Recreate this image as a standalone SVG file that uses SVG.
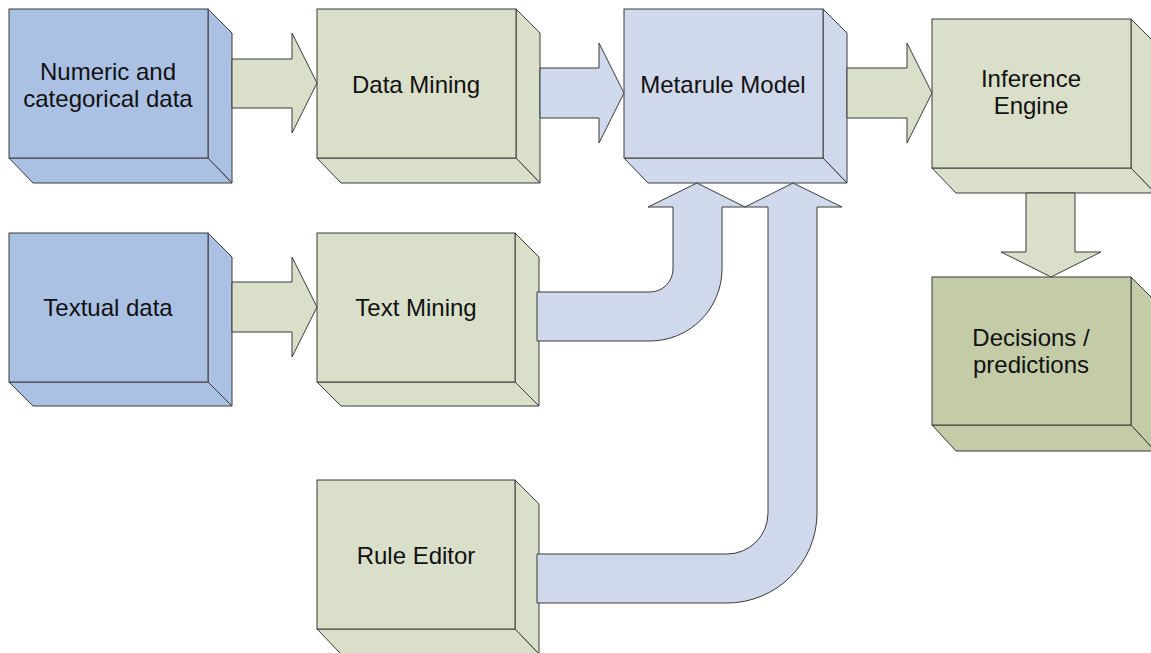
<svg xmlns="http://www.w3.org/2000/svg" width="1151" height="653" viewBox="0 0 1151 653">
<style>
.f{stroke:#3a3a3a;stroke-width:1;stroke-linejoin:miter}
.blue{fill:#ABC1E3}
.green{fill:#DADFC9}
.lblue{fill:#CFD9EB}
.olive{fill:#C3CBA7}
text{font-family:"Liberation Sans",Arial,sans-serif;font-size:24px;fill:#111;text-anchor:middle}
</style>
<rect width="1151" height="653" fill="#fff"/>
<g id="numeric" class="blue">
<polygon class="f" points="208,9 232,33 232,183 208,158"/>
<polygon class="f" points="9,158 208,158 232,183 33,183"/>
<rect class="f" x="9" y="9" width="199" height="149"/>
<text x="108" y="80">Numeric and</text>
<text x="108" y="107">categorical data</text>
</g>
<g id="datamining" class="green">
<polygon class="f" points="516,9 540,33 540,183 516,158"/>
<polygon class="f" points="317,158 516,158 540,183 341,183"/>
<rect class="f" x="317" y="9" width="199" height="149"/>
<text x="416" y="93">Data Mining</text>
</g>
<g id="metarule" class="lblue">
<polygon class="f" points="823,9 847,33 847,183 823,158"/>
<polygon class="f" points="624,158 823,158 847,183 648,183"/>
<rect class="f" x="624" y="9" width="199" height="149"/>
<text x="723" y="93">Metarule Model</text>
</g>
<g id="inference" class="green">
<polygon class="f" points="1131,19 1155,43 1155,193 1131,168"/>
<polygon class="f" points="932,168 1131,168 1155,193 956,193"/>
<rect class="f" x="932" y="19" width="199" height="149"/>
<text x="1031" y="87">Inference</text>
<text x="1031" y="114">Engine</text>
</g>
<g id="textual" class="blue">
<polygon class="f" points="208,233 232,257 232,406 208,382"/>
<polygon class="f" points="9,382 208,382 232,406 33,406"/>
<rect class="f" x="9" y="233" width="199" height="149"/>
<text x="108" y="316">Textual data</text>
</g>
<g id="textmining" class="green">
<polygon class="f" points="515,233 539,257 539,406 515,382"/>
<polygon class="f" points="317,382 515,382 539,406 341,406"/>
<rect class="f" x="317" y="233" width="198" height="149"/>
<text x="416" y="316">Text Mining</text>
</g>
<g id="decisions" class="olive">
<polygon class="f" points="1131,277 1155,301 1155,451 1131,425"/>
<polygon class="f" points="932,425 1131,425 1155,451 956,451"/>
<rect class="f" x="932" y="277" width="199" height="148"/>
<text x="1031" y="346">Decisions /</text>
<text x="1031" y="373">predictions</text>
</g>
<g id="ruleeditor" class="green">
<polygon class="f" points="515,480 539,504 539,654 515,629"/>
<polygon class="f" points="317,629 515,629 539,654 341,654"/>
<rect class="f" x="317" y="480" width="198" height="149"/>
<text x="416" y="564">Rule Editor</text>
</g>
<g id="connectors">
<polygon class="f green" points="232,59 292,59 292,33 317,83 292,133 292,108 232,108"/>
<polygon class="f lblue" points="540,68 599,68 599,43 624,93 599,143 599,118 540,118"/>
<polygon class="f green" points="847,68 907,68 907,43 932,93 907,143 907,118 847,118"/>
<polygon class="f green" points="232,282 292,282 292,257 317,307 292,357 292,332 232,332"/>
<polygon class="f green" points="1026,193 1075,193 1075,252 1101,252 1051,277 1001,252 1026,252"/>
<path class="f lblue" d="M537 292 L650 292 A23 23 0 0 0 673 269 L673 207 L648 207 L697 183 L745 207 L722 207 L722 269 A72 72 0 0 1 650 341 L537 341 Z"/>
<path class="f lblue" d="M537 554 L727 554 A41 41 0 0 0 768 513 L768 207 L745 207 L793 183 L842 207 L817 207 L817 513 A90 90 0 0 1 727 603 L537 603 Z"/>
</g>
</svg>
